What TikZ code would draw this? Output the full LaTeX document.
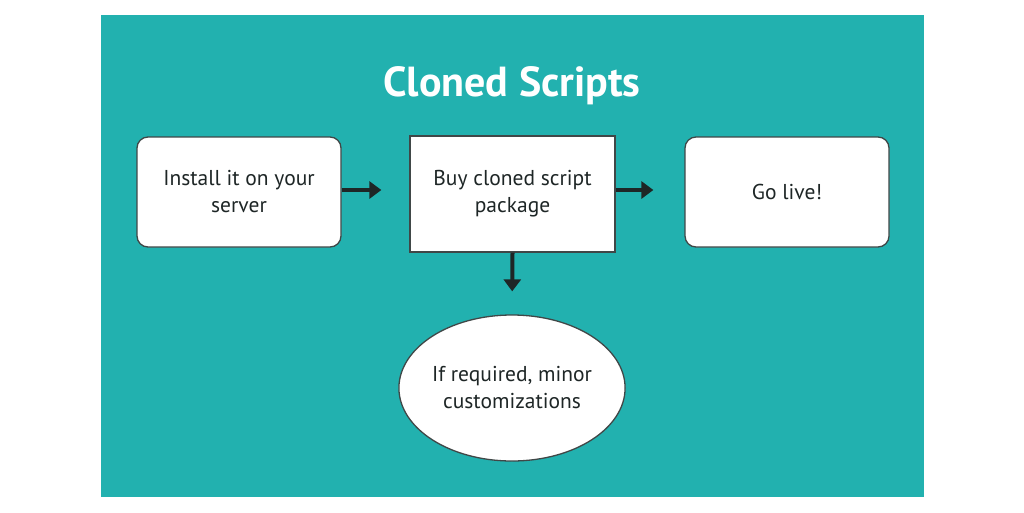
\documentclass[tikz,border=0pt]{standalone}
\usepackage{fontspec}
\setmainfont{PT Sans}
\usetikzlibrary{shapes.geometric,arrows.meta}
\definecolor{teal}{HTML}{22B1AF}
\definecolor{ink}{HTML}{1E2626}
\tikzset{
  box/.style={draw=ink!85, line width=1.3pt, fill=white, minimum width=204pt, minimum height=110pt, align=center, text=ink, font=\fontsize{21.5}{27}\selectfont},
  rbox/.style={box, rounded corners=11pt},
  oval/.style={ellipse, draw=ink!85, line width=1.3pt, fill=white, minimum width=220pt, minimum height=146pt, inner sep=0pt, align=center, text=ink, font=\fontsize{21.5}{27}\selectfont},
  flow/.style={draw=ink, line width=4pt, -{Triangle[length=12pt,width=17pt]}}
}
\begin{document}
\begin{tikzpicture}[x=1pt,y=-1pt]
\useasboundingbox (0,0) rectangle (1024,512);
\fill[white] (0,0) rectangle (1024,512);
\fill[teal] (101,15) rectangle (924,497);
\node[text=white, font=\fontsize{42}{48}\selectfont\bfseries] (title) at (512,86) {Cloned Scripts};
\node[rbox] (b1) at (239,192) {Install it on your\\server};
\node[box, minimum height=116pt, minimum width=205pt] (b2) at (512.5,194) {Buy cloned script\\package};
\node[rbox] (b3) at (787,192) {Go live!};
\node[oval] (e) at (512,388) {If required, minor\\customizations};
\draw[flow, shorten >=28pt] (b1.east |- 0,190) -- (b2.west |- 0,190);
\draw[flow, shorten >=31pt] (b2.east |- 0,190) -- (b3.west |- 0,190);
\draw[flow, shorten >=23pt] (b2.south) -- (e.north);
\end{tikzpicture}
\end{document}
